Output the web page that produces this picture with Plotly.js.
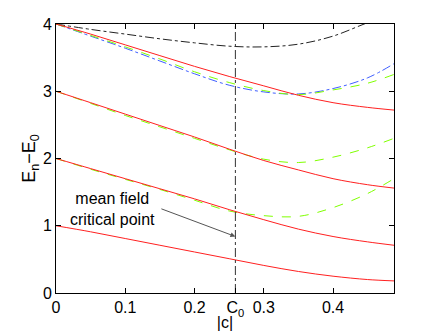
<!DOCTYPE html>
<html>
<head>
<meta charset="utf-8">
<script src="https://cdn.plot.ly/plotly-3.0.1.min.js"></script>
<style>
  body { margin: 0; background: #fff; }
  #plotDiv { width: 436px; height: 331px; }
</style>
</head>
<body>
<div id="plotDiv"></div>
<script>
// coupling |c| grid
let xs = [0, 0.05, 0.1, 0.15, 0.2, 0.25, 0.3, 0.35, 0.4, 0.45, 0.488];

// exact levels (red solid)
let red1 = [1.00, 0.91, 0.81, 0.71, 0.61, 0.51, 0.41, 0.32, 0.25, 0.20, 0.18];
let red2 = [2.00, 1.85, 1.70, 1.55, 1.40, 1.24, 1.09, 0.95, 0.84, 0.76, 0.71];
let red3 = [3.00, 2.83, 2.66, 2.49, 2.32, 2.14, 1.97, 1.83, 1.70, 1.61, 1.56];
let red4 = [4.00, 3.85, 3.69, 3.53, 3.37, 3.22, 3.08, 2.94, 2.83, 2.76, 2.72];

// mean field levels (green dashed)
let green1 = [2.00, 1.84, 1.69, 1.54, 1.38, 1.22, 1.15, 1.14, 1.27, 1.48, 1.70];
let green2 = [3.00, 2.82, 2.64, 2.47, 2.30, 2.13, 1.99, 1.94, 2.02, 2.16, 2.30];
let green3 = [4.00, 3.83, 3.66, 3.48, 3.29, 3.13, 3.01, 2.95, 3.02, 3.12, 3.25];

// other approximations (dash-dot)
let blue = [4.00, 3.82, 3.64, 3.45, 3.26, 3.09, 2.99, 2.96, 3.04, 3.20, 3.41];
let black = [4.00, 3.92, 3.85, 3.78, 3.72, 3.67, 3.66, 3.70, 3.82, 4.02, 4.15];

let c0 = 0.259; // mean field critical point
let xtickvals = [0, 0.1, 0.2, c0, 0.3, 0.4];
let xticktext = ["0", "0.1", "0.2", "C<sub>0</sub>", "0.3", "0.4"];
let ytickvals = [0, 1, 2, 3, 4];
let arrowTail = [0.150, 1.26];
let arrowTip = [c0, 0.84];
let labelPos = [0.082, 1.255];

function line(y, color, dash) {
  return {
    x: xs, y: y, type: "scatter", mode: "lines",
    line: {color: color, width: 1, dash: dash, shape: "spline", smoothing: 1},
    hoverinfo: "skip"
  };
}

let data = [
  line(black, "#222222", "dashdot"),
  line(blue, "#3f5fff", "dashdot"),
  line(green1, "#80ff00", "dash"),
  line(green2, "#80ff00", "dash"),
  line(green3, "#80ff00", "dash"),
  line(red1, "#ff2020", "solid"),
  line(red2, "#ff2020", "solid"),
  line(red3, "#ff2020", "solid"),
  line(red4, "#ff2020", "solid"),
  {
    x: [c0, c0], y: [0, 4], type: "scatter", mode: "lines",
    line: {color: "#333333", width: 1, dash: "dashdot"},
    hoverinfo: "skip"
  }
];

let font = {family: "Liberation Sans, Arial, sans-serif", size: 16, color: "#000"};

let layout = {
  width: 436,
  height: 331,
  margin: {l: 56, r: 42, t: 24, b: 38},
  paper_bgcolor: "#fff",
  plot_bgcolor: "#fff",
  showlegend: false,
  font: font,
  xaxis: {
    range: [0, 0.488],
    tickvals: xtickvals,
    ticktext: xticktext,
    ticks: "inside",
    ticklen: 5,
    tickcolor: "#000",
    showline: true,
    linecolor: "#000",
    linewidth: 1,
    mirror: "ticks",
    showgrid: false,
    zeroline: false,
    title: {text: "|c|", font: {size: 16}, standoff: 2}
  },
  yaxis: {
    range: [0, 4],
    tickvals: ytickvals,
    ticks: "inside",
    ticklen: 5,
    tickcolor: "#000",
    showline: true,
    linecolor: "#000",
    linewidth: 1,
    mirror: "ticks",
    showgrid: false,
    zeroline: false,
    title: {text: "E<sub>n</sub>\u2212E<sub>0</sub>", font: {size: 18}, standoff: 2}
  },
  annotations: [
    {
      x: labelPos[0], y: labelPos[1], xref: "x", yref: "y",
      text: "mean field<br>critical point", showarrow: false,
      font: {size: 16}
    },
    {
      x: arrowTip[0], y: arrowTip[1], xref: "x", yref: "y",
      ax: arrowTail[0], ay: arrowTail[1], axref: "x", ayref: "y",
      text: "", showarrow: true, arrowhead: 2, arrowsize: 1,
      arrowwidth: 1, arrowcolor: "#555"
    }
  ]
};

Plotly.newPlot("plotDiv", data, layout, {displayModeBar: false, staticPlot: true});
</script>
</body>
</html>
